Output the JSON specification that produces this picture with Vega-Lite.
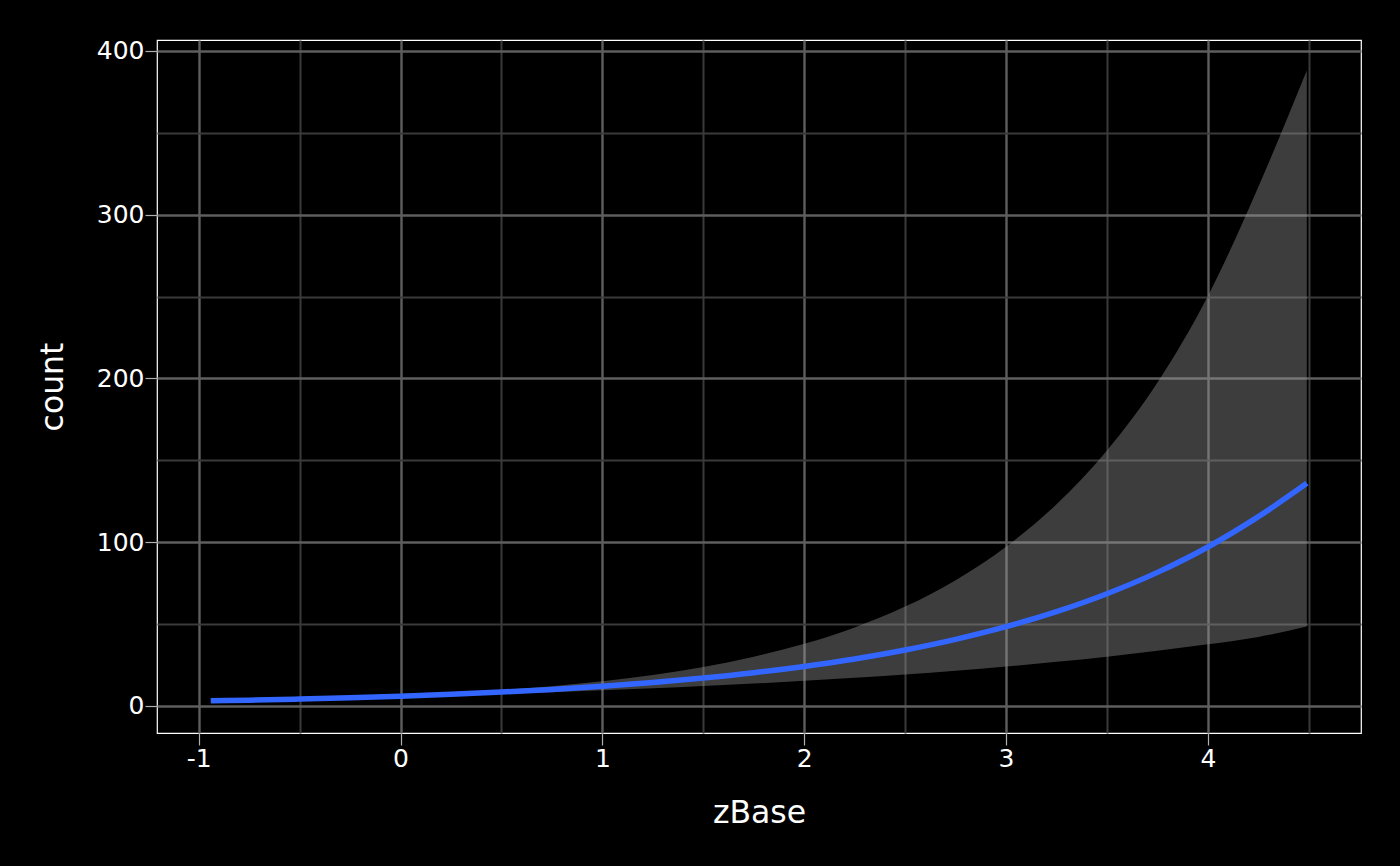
{
  "$schema": "https://vega.github.io/schema/vega-lite/v6.json",
  "description": "Poisson fit of count on zBase with a confidence ribbon, dark theme.",
  "width": 1204,
  "height": 693,
  "autosize": {"type": "none"},
  "padding": {"left": 157, "top": 40, "right": 39, "bottom": 133},
  "background": "#000000",
  "config": {
    "view": {"stroke": "#ffffff", "strokeWidth": 1.2},
    "axis": {
      "labelFont": "DejaVu Sans",
      "labelFontSize": 25,
      "labelColor": "#ffffff",
      "labelExpr": "replace(datum.label, '\u2212', '-')",
      "titleFont": "DejaVu Sans",
      "titleFontSize": 31.5,
      "titleFontWeight": "normal",
      "titleColor": "#ffffff",
      "tickColor": "#b0b0b0",
      "tickWidth": 1.2,
      "domain": false
    }
  },
  "data": {
    "values": [
      {"zBase": -0.94, "fit": 3.12, "lower": 2.2, "upper": 4.4},
      {"zBase": -0.75, "fit": 3.56, "lower": 2.64, "upper": 4.81},
      {"zBase": -0.5, "fit": 4.24, "lower": 3.31, "upper": 5.43},
      {"zBase": -0.25, "fit": 5.04, "lower": 4.13, "upper": 6.14},
      {"zBase": 0, "fit": 6.0, "lower": 5.11, "upper": 7.05},
      {"zBase": 0.25, "fit": 7.14, "lower": 6.2, "upper": 8.23},
      {"zBase": 0.5, "fit": 8.5, "lower": 7.32, "upper": 9.88},
      {"zBase": 0.75, "fit": 10.11, "lower": 8.43, "upper": 12.12},
      {"zBase": 1, "fit": 12.03, "lower": 9.59, "upper": 15.08},
      {"zBase": 1.25, "fit": 14.32, "lower": 10.83, "upper": 18.93},
      {"zBase": 1.5, "fit": 17.04, "lower": 12.19, "upper": 23.82},
      {"zBase": 1.75, "fit": 20.28, "lower": 13.68, "upper": 30.05},
      {"zBase": 2, "fit": 24.14, "lower": 15.35, "upper": 37.97},
      {"zBase": 2.25, "fit": 28.72, "lower": 17.19, "upper": 47.99},
      {"zBase": 2.5, "fit": 34.18, "lower": 19.25, "upper": 60.7},
      {"zBase": 2.75, "fit": 40.68, "lower": 21.54, "upper": 76.84},
      {"zBase": 3, "fit": 48.41, "lower": 24.09, "upper": 97.3},
      {"zBase": 3.25, "fit": 57.61, "lower": 26.94, "upper": 123.2},
      {"zBase": 3.5, "fit": 68.56, "lower": 30.14, "upper": 156},
      {"zBase": 3.75, "fit": 81.59, "lower": 33.7, "upper": 197.5},
      {"zBase": 4, "fit": 97.1, "lower": 37.66, "upper": 250.3},
      {"zBase": 4.25, "fit": 115.6, "lower": 42.14, "upper": 317.1},
      {"zBase": 4.49, "fit": 136, "lower": 48.5, "upper": 388}
    ]
  },
  "layer": [
    {
      "mark": {"type": "area", "color": "#999999", "opacity": 0.4, "interpolate": "monotone"},
      "encoding": {
        "x": {
          "field": "zBase",
          "type": "quantitative",
          "scale": {"domain": [-1.2065, 4.7585], "nice": false, "zero": false},
          "axis": {
            "orient": "top",
            "values": [-0.5, 0.5, 1.5, 2.5, 3.5, 4.5],
            "labels": false,
            "ticks": false,
            "title": null,
            "grid": true,
            "gridColor": "#3a3a3a",
            "gridWidth": 2
          }
        },
        "y": {
          "field": "lower",
          "type": "quantitative",
          "scale": {"domain": [-16.5, 406.7], "nice": false, "zero": false},
          "axis": {
            "orient": "right",
            "values": [50, 150, 250, 350],
            "labels": false,
            "ticks": false,
            "title": null,
            "grid": true,
            "gridColor": "#3a3a3a",
            "gridWidth": 2
          }
        },
        "y2": {"field": "upper"}
      }
    },
    {
      "mark": {"type": "line", "color": "#3366FF", "strokeWidth": 5.5, "interpolate": "monotone"},
      "encoding": {
        "x": {
          "field": "zBase",
          "type": "quantitative",
          "axis": {
            "orient": "bottom",
            "values": [-1, 0, 1, 2, 3, 4],
            "title": "zBase",
            "grid": true,
            "gridColor": "#5e5e5e",
            "gridWidth": 2.4,
            "tickSize": 12,
            "labelPadding": 1,
            "titleX": 602,
            "titleY": 80,
            "titleBaseline": "middle"
          }
        },
        "y": {
          "field": "fit",
          "type": "quantitative",
          "axis": {
            "orient": "left",
            "values": [0, 100, 200, 300, 400],
            "title": "count",
            "grid": true,
            "gridColor": "#5e5e5e",
            "gridWidth": 2.4,
            "tickSize": 12,
            "labelPadding": 1,
            "titleAngle": -90,
            "titleX": -104,
            "titleY": 346.5,
            "titleBaseline": "middle"
          }
        }
      }
    }
  ],
  "resolve": {"axis": {"x": "independent", "y": "independent"}}
}
